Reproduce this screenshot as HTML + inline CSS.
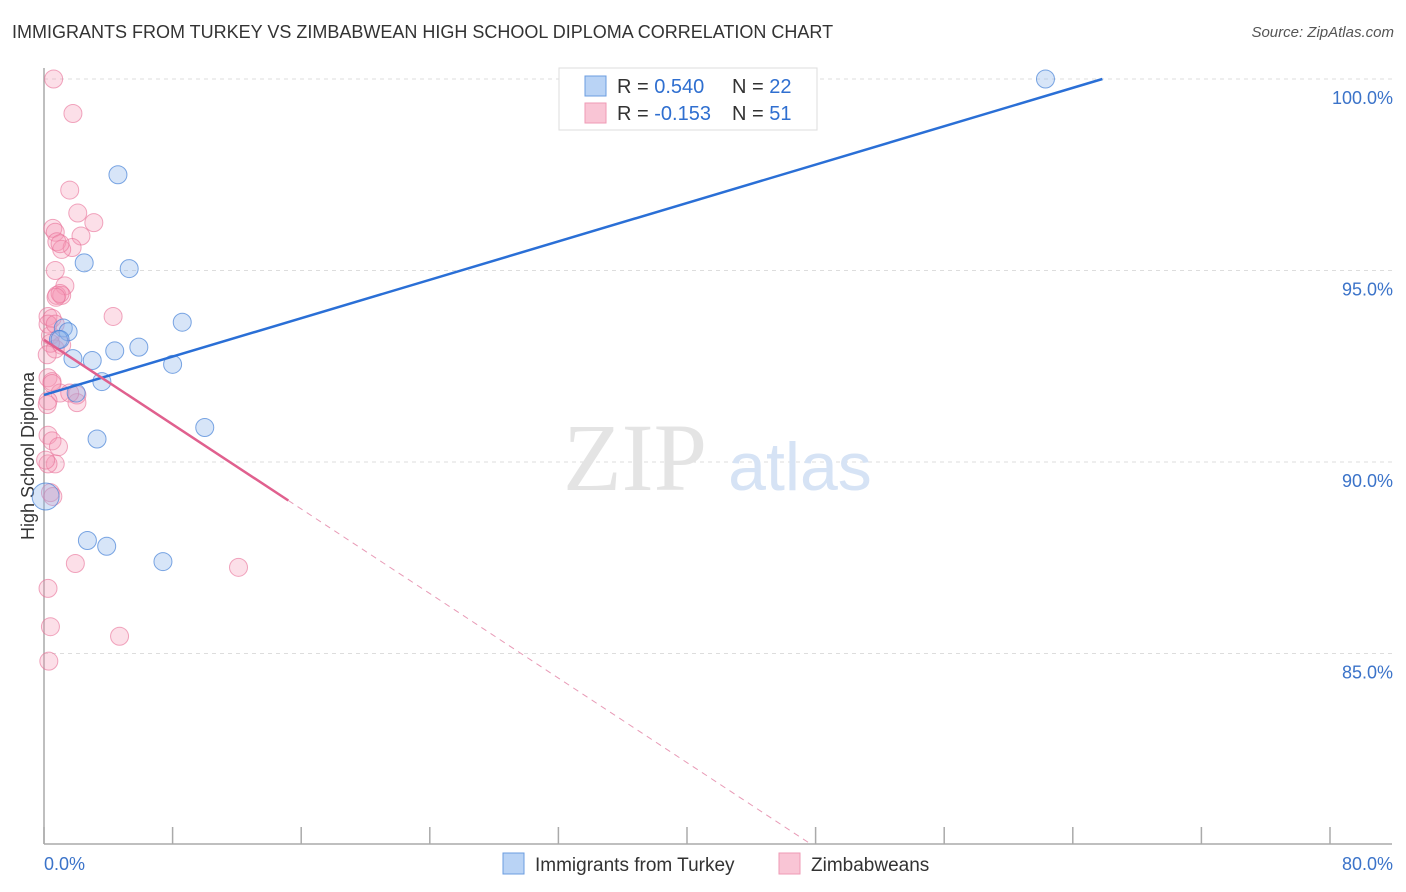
<!DOCTYPE html>
<html><head><meta charset="utf-8">
<style>
body{margin:0;background:#fff;font-family:"Liberation Sans",sans-serif;}
#wrap{position:relative;width:1406px;height:892px;overflow:hidden;}
.title{position:absolute;left:12px;top:22px;font-size:18px;color:#333;}
.source{position:absolute;right:12px;top:24px;font-size:15px;color:#555;font-style:italic;}
</style></head>
<body>
<div id="wrap">
<div class="title">IMMIGRANTS FROM TURKEY VS ZIMBABWEAN HIGH SCHOOL DIPLOMA CORRELATION CHART</div>
<div class="source">Source: ZipAtlas.com</div>
<svg id="chart" width="1406" height="892" style="position:absolute;left:0;top:0"></svg>
</div>
<script>
const blueX=[4.6,2.5,5.3,1.2,1.5,8.6,0.9,5.9,4.4,1.8,3.0,8.0,3.6,2.0,10.0,3.3,0.1,2.7,3.9,7.4,62.3,1.0];
const blueY=[97.5,95.2,95.05,93.5,93.4,93.65,93.2,93.0,92.9,92.7,92.65,92.55,92.1,91.8,90.9,90.6,89.1,87.95,87.8,87.4,100.0,93.2];
const pinkX=[0.6,1.8,1.6,2.1,3.1,0.55,0.7,2.3,0.8,1.75,1.1,1.0,0.7,1.3,0.8,1.1,1.0,0.75,4.3,0.25,0.5,0.4,1.1,0.7,0.25,0.5,1.0,2.05,2.05,0.25,0.5,0.25,0.5,0.7,0.25,0.4,0.55,1.95,12.1,0.25,0.4,4.7,0.3,0.4,1.6,0.2,0.2,0.1,0.9,0.25,0.7];
const pinkY=[100.0,99.1,97.1,96.5,96.25,96.1,96.0,95.9,95.75,95.6,95.55,95.7,95.0,94.6,94.35,94.35,94.4,94.3,93.8,93.8,93.75,93.3,93.05,92.95,92.2,92.1,91.8,91.75,91.55,91.6,92.05,90.7,90.55,89.95,89.95,89.2,89.1,87.35,87.25,86.7,85.7,85.45,84.8,93.1,91.8,92.8,91.5,90.05,90.4,93.6,93.6];
const blueR=[12,12,12,12,12,12,12,12,12,12,12,12,12,12,12,12,18,12,12,12,12,12];
const trendBlue=[91.75,0.1253];
const trendPink=[93.19,-0.276];
const pinkSolidEnd=15.2;
const xTicks=[0,8,16,24,32,40,48,56,64,72,80];
const yTicks=[85,90,95,100];
const yTickLabels=["85.0%","90.0%","95.0%","100.0%"];

const X0=44,X1=1330,Y0=844;
const sx=v=>X0+(v/80)*(X1-X0);
const sy=v=>79+(100-v)*38.3;
const svg=document.getElementById('chart');
const NS='http://www.w3.org/2000/svg';
function mk(t,a){const e=document.createElementNS(NS,t);for(const k in a)e.setAttribute(k,a[k]);svg.appendChild(e);return e;}

yTicks.forEach((t,i)=>{
 const g=mk('line',{x1:X0,x2:1392,y1:sy(t),y2:sy(t),stroke:'#ddd','stroke-dasharray':'4,4'});
 
 
 const l=mk('text',{x:1393,y:sy(t)+25,'text-anchor':'end','font-size':18,fill:'#3b73c9'});
 l.textContent=yTickLabels[i];
 
 
});
const wm=mk('text',{x:635,y:490,'text-anchor':'middle','font-size':96,fill:'#e4e4e4','font-family':'Liberation Serif'});
wm.textContent='ZIP';


const wm2=mk('text',{x:800,y:490,'text-anchor':'middle','font-size':68,fill:'#d6e3f5'});
wm2.textContent='atlas';



const ya=mk('line',{x1:X0,x2:X0,y1:68,y2:Y0,stroke:'#aaa','stroke-width':1.5});


const xa=mk('line',{x1:X0,x2:1392,y1:Y0,y2:Y0,stroke:'#aaa','stroke-width':1.5});


xTicks.forEach(t=>{
 const k=mk('line',{x1:sx(t),x2:sx(t),y1:827,y2:Y0,stroke:'#aaa','stroke-width':1.5});
 
 
});
const xl0=mk('text',{x:44,y:870,'font-size':18,fill:'#3b73c9'});xl0.textContent='0.0%';


const xl1=mk('text',{x:1393,y:870,'text-anchor':'end','font-size':18,fill:'#3b73c9'});xl1.textContent='80.0%';


const yt=mk('text',{x:34,y:456,'text-anchor':'middle','font-size':18,fill:'#333',transform:'rotate(-90 34 456)'});
yt.textContent='High School Diploma';



pinkX.forEach((x,i)=>{
 const c=mk('circle',{cx:sx(x),cy:sy(pinkY[i]),r:9,fill:'rgba(244,150,180,0.3)',stroke:'rgba(232,110,150,0.6)','stroke-width':1});
 
 
});
blueX.forEach((x,i)=>{
 const c=mk('circle',{cx:sx(x),cy:sy(blueY[i]),r:blueR[i]*0.75,fill:'rgba(140,180,235,0.35)',stroke:'rgba(70,130,215,0.7)','stroke-width':1});
 
 
});
const bx1=(100-trendBlue[0])/trendBlue[1];
const bl=mk('line',{x1:sx(0),y1:sy(trendBlue[0]),x2:sx(bx1),y2:sy(100),stroke:'#2a6fd6','stroke-width':2.5});


const py=x=>trendPink[0]+trendPink[1]*x;
const pl=mk('line',{x1:sx(0),y1:sy(py(0)),x2:sx(pinkSolidEnd),y2:sy(py(pinkSolidEnd)),stroke:'#e0608e','stroke-width':2.5});


const pxEnd=(80-trendPink[0])/trendPink[1];
const pd=mk('line',{x1:sx(pinkSolidEnd),y1:sy(py(pinkSolidEnd)),x2:sx(pxEnd),y2:sy(80),stroke:'#e89ab6','stroke-width':1,'stroke-dasharray':'6,5'});



// top legend
const lb=mk('rect',{x:559,y:68,width:258,height:62,fill:'#fff',stroke:'#ddd'});


[[0,'#b9d3f5','#6b9de0','0.540','22'],[1,'#f9c5d5','#ef9ab5','-0.153','51']].forEach(r=>{
 const y=86+r[0]*27;
 const s=mk('rect',{x:585,y:y-10,width:21,height:20,fill:r[1],stroke:r[2]});
 
 
 const t=mk('text',{x:617,y:y+7,'font-size':20,fill:'#333'});
 t.innerHTML='R = <tspan fill="#2f6fd0"> '+r[3]+'</tspan>';
 
 
 const n=mk('text',{x:732,y:y+7,'font-size':20,fill:'#333'});
 n.innerHTML='N = <tspan fill="#2f6fd0"> '+r[4]+'</tspan>';
 
 
});
// bottom legend
[[503,'#b9d3f5','#6b9de0','Immigrants from Turkey','legend-entry-turkey'],[779,'#f9c5d5','#ef9ab5','Zimbabweans','legend-entry-zimbabweans']].forEach(r=>{
 const s=mk('rect',{x:r[0],y:853,width:21,height:21,fill:r[1],stroke:r[2]});
 
 
 const t=mk('text',{x:r[0]+32,y:871,'font-size':19,fill:'#333'});
 t.textContent=r[3];
 
 
});
</script>
</body></html>
